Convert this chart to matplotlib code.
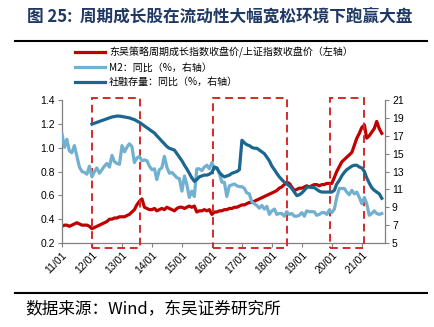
import numpy as np
import pandas as pd
import matplotlib
matplotlib.use('Agg')
import matplotlib.pyplot as plt
import matplotlib.dates as mdates
import matplotlib.transforms as mtransforms
from matplotlib.patches import Rectangle

plt.rcParams['font.family'] = ['Liberation Sans', 'Noto Sans CJK SC', 'DejaVu Sans']

# 东吴策略周期成长指数/上证指数 (left axis), monthly from 2011/01
ratio = [0.34, 0.35, 0.35, 0.34, 0.35, 0.36, 0.37, 0.36, 0.35, 0.35, 0.35, 0.34,
         0.32, 0.33, 0.34, 0.35, 0.36, 0.37, 0.38, 0.40, 0.40, 0.41, 0.41, 0.42,
         0.42, 0.42, 0.43, 0.44, 0.46, 0.48, 0.52, 0.55, 0.57, 0.50, 0.49, 0.48,
         0.48, 0.49, 0.47, 0.48, 0.49, 0.48, 0.50, 0.49, 0.48, 0.47, 0.49, 0.50,
         0.50, 0.49, 0.50, 0.51, 0.50, 0.51, 0.46, 0.47, 0.47, 0.48, 0.47, 0.48,
         0.44, 0.46, 0.46, 0.47, 0.47, 0.48, 0.48, 0.49, 0.49, 0.50, 0.50, 0.51,
         0.52, 0.52, 0.53, 0.54, 0.54, 0.55, 0.56, 0.57, 0.58, 0.59, 0.60, 0.61,
         0.62, 0.63, 0.64, 0.66, 0.67, 0.69, 0.71, 0.70, 0.67, 0.64, 0.65, 0.66,
         0.66, 0.67, 0.68, 0.67, 0.68, 0.69, 0.69, 0.68, 0.69, 0.69, 0.70, 0.70,
         0.70, 0.75, 0.80, 0.84, 0.88, 0.90, 0.92, 0.94, 0.96, 1.02, 1.08, 1.12,
         1.17, 1.19, 1.08, 1.10, 1.13, 1.16, 1.22, 1.16, 1.12]

# M2 同比 (right axis), monthly from 2011/01
m2 = [17.2, 15.7, 16.6, 15.3, 15.1, 15.9, 14.7, 13.5, 13.0, 12.9, 12.7, 13.6,
      12.4, 13.0, 13.4, 12.8, 13.2, 13.6, 13.9, 13.5, 14.8, 14.1, 13.9, 13.8,
      15.9, 15.2, 15.7, 16.1, 15.8, 14.0, 14.5, 14.7, 14.2, 14.3, 14.2, 13.6,
      13.2, 13.3, 12.1, 13.2, 13.4, 14.7, 13.5, 12.8, 12.9, 12.6, 12.3, 12.2,
      10.8, 12.5, 11.6, 10.1, 10.8, 10.2, 13.3, 13.3, 13.1, 13.5, 13.7, 13.3,
      14.0, 13.3, 13.4, 12.8, 11.8, 11.8, 10.2, 11.4, 11.5, 11.6, 11.4, 11.3,
      11.3, 11.1, 10.6, 10.5, 9.6, 9.4, 9.2, 8.9, 9.2, 8.8, 9.1, 8.2,
      8.6, 8.8, 8.2, 8.3, 8.3, 8.0, 8.5, 8.2, 8.3, 8.0, 8.0, 8.1,
      8.4, 8.0, 8.6, 8.5, 8.5, 8.5, 8.1, 8.2, 8.4, 8.4, 8.2, 8.7,
      8.4, 8.8, 10.1, 11.1, 11.1, 11.1, 10.7, 10.4, 10.9, 10.5, 10.7, 10.1,
      9.4, 10.1, 9.4, 8.1, 8.3, 8.6, 8.3, 8.2, 8.3]

# 社融存量 同比 (right axis), monthly from 2012/01
tsf = [18.3, 18.4, 18.5, 18.6, 18.7, 18.8, 18.9, 19.0, 19.1, 19.15, 19.2, 19.2,
       19.15, 19.1, 19.05, 19.0, 18.9, 18.8, 18.65, 18.5, 18.3, 18.1, 17.9, 17.7,
       17.5, 17.3, 17.0, 16.7, 16.4, 16.1, 15.8, 15.6, 15.5, 15.4, 15.0, 14.6,
       14.2, 13.7, 13.3, 12.8, 12.3, 11.9, 12.1, 12.4, 12.5, 12.6, 12.6, 12.7,
       12.9, 13.5, 13.4, 12.9, 12.6, 12.4, 12.5, 12.6, 12.8, 12.9, 13.0, 13.2,
       16.5, 16.2, 16.0, 15.9, 15.7, 15.6, 15.6, 15.4, 15.2, 15.0, 14.6, 14.2,
       13.6, 13.2, 12.8, 12.4, 12.1, 11.8, 11.6, 11.4, 11.1, 10.7, 10.3, 10.4,
       10.6, 10.9, 11.2, 11.3, 11.2, 11.2, 11.0, 10.8, 10.7, 10.7, 10.7, 10.7,
       10.7, 10.9, 11.6, 12.0, 12.5, 12.9, 13.2, 13.4, 13.6, 13.7, 13.7, 13.5,
       13.4, 13.0, 12.3, 11.7, 11.2, 10.9, 10.7, 10.5, 10.0]

# 流动性宽松区间 (dashed boxes)
periods = [('2012-01-01', '2013-08-10'),
           ('2016-01-10', '2018-07-01'),
           ('2019-12-05', '2021-02-01')]

labels = ['东吴策略周期成长指数收盘价/上证指数收盘价（左轴）',
          'M2：同比（%，右轴）',
          '社融存量：同比（%，右轴）']

d1 = pd.date_range('2011-01-01', periods=len(ratio), freq='MS')
d2 = pd.date_range('2012-01-01', periods=len(tsf), freq='MS')

red = '#C00000'
light = '#72B0CF'
dark = '#1C6690'
grey = '#808080'

fig = plt.figure(figsize=(4.35, 3.27), dpi=100)
ax = fig.add_axes([62/435, 1-243/327, 323/435, 143/327])
ax2 = ax.twinx()

l1, = ax.plot(d1, ratio, color=red, lw=2.3)
l2, = ax2.plot(d1, m2, color=light, lw=2.3)
l3, = ax2.plot(d2, tsf, color=dark, lw=2.3)

ax.set_ylim(0.2, 1.4)
ax.set_yticks(np.arange(0.2, 1.41, 0.2))
ax.set_yticklabels(['%.1f' % v for v in np.arange(0.2, 1.41, 0.2)])
ax2.set_ylim(5, 21)
ax2.set_yticks(range(5, 22, 2))
ax.set_xlim(pd.Timestamp('2011-01-01'), pd.Timestamp('2021-10-10'))

ticks = pd.date_range('2011-01-01', '2021-01-01', freq='YS')
ax.set_xticks(ticks)
ax.set_xticklabels([t.strftime('%y/%m') for t in ticks], rotation=45,
                   ha='right', va='top', rotation_mode='anchor')

for a in (ax, ax2):
    a.spines['top'].set_visible(False)
    for s in a.spines.values():
        s.set_color(grey)
        s.set_linewidth(0.9)
    a.tick_params(labelsize=7.5, length=3, color=grey, width=0.8, pad=2)
ax.spines['right'].set_visible(False)
ax2.spines['left'].set_visible(False)
ax2.spines['bottom'].set_visible(False)

trans = mtransforms.blended_transform_factory(ax.transData, ax.transAxes)
for a_, b_ in periods:
    x0 = mdates.date2num(pd.Timestamp(a_))
    x1 = mdates.date2num(pd.Timestamp(b_))
    r = Rectangle((x0, -0.035), x1 - x0, 1.05, transform=trans, fill=False,
                  ec='#D42A2A', lw=1.4, ls=(0, (4, 2.5)), clip_on=False, zorder=5)
    ax.add_patch(r)

fig.legend([l1, l2, l3], labels, loc='upper left', bbox_to_anchor=(75/435, 1-47/327),
           frameon=False, fontsize=7.2, handlelength=3.0, handletextpad=0.4,
           labelspacing=0.45, borderpad=0, borderaxespad=0,
           prop={'family': ['Noto Sans CJK SC'], 'size': 7.2})

fig.text(27/435, 1-17/327, '图 25:  周期成长股在流动性大幅宽松环境下跑赢大盘',
         ha='left', va='center', fontsize=12, fontweight='bold', color='#1F3864',
         family=['Noto Sans CJK SC'])
fig.add_artist(plt.Line2D([15/435, 427/435], [1-40.5/327, 1-40.5/327], color='black', lw=1.5))
fig.add_artist(plt.Line2D([15/435, 427/435], [1-293/327, 1-293/327], color='black', lw=1.5))
fig.text(25/435, 1-310/327, '数据来源：Wind，东吴证券研究所', ha='left', va='center',
         fontsize=12, color='black', family=['Noto Sans CJK SC'])

fig.savefig('out.png', dpi=100)
